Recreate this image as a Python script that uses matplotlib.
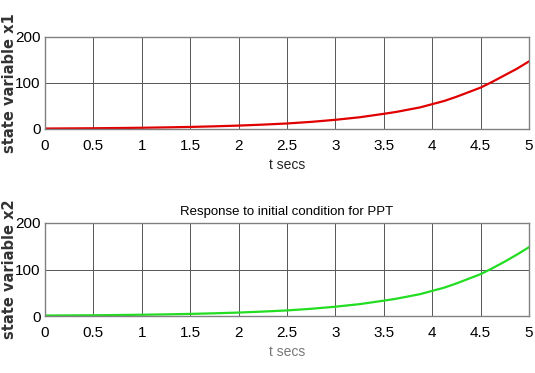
import matplotlib.pyplot as plt
import numpy as np

# time samples and state responses
t = [0, 0.25, 0.5, 0.75, 1, 1.25, 1.5, 1.75, 2, 2.25, 2.5, 2.75, 3,
     3.25, 3.5, 3.625, 3.75, 3.875, 4, 4.125, 4.25, 4.375, 4.5, 4.625,
     4.75, 4.875, 5]
x1 = [1, 1.3, 1.6, 2.1, 2.7, 3.5, 4.5, 5.8, 7.4, 9.5, 12, 15.5, 20,
      25.5, 33, 37, 42, 47, 54, 61, 70, 80, 90, 103, 117, 131, 147]
x2 = [1, 1.3, 1.6, 2.1, 2.7, 3.5, 4.5, 5.8, 7.4, 9.5, 12, 15.5, 20,
      25.5, 33, 37, 42, 47, 54, 61, 70, 80, 90, 103, 117, 132, 148]

xticks = [0, 0.5, 1, 1.5, 2, 2.5, 3, 3.5, 4, 4.5, 5]
xlabels = ['0', '0.5', '1', '1.5', '2', '2.5', '3', '3.5', '4', '4.5', '5']
yticks = [0, 100, 200]

plt.rcParams['font.family'] = ['Liberation Sans', 'DejaVu Sans']

fig = plt.figure(figsize=(5.35, 3.73), dpi=100)
W, H = 535, 373
ax1 = fig.add_axes([45 / W, 1 - 129 / H, 484 / W, 92 / H])
ax2 = fig.add_axes([45 / W, 1 - 316 / H, 484 / W, 93 / H])


def style(ax, y, color, ylabel, xcol):
    ax.plot(t, y, color=color, lw=1.6)
    ax.set_xlim(0, 5)
    ax.set_ylim(0, 200)
    ax.set_xticks(xticks)
    ax.set_xticklabels(xlabels)
    ax.set_yticks(yticks)
    ax.grid(True, color='#555555', lw=0.7)
    ax.tick_params(length=0, labelsize=11, pad=7)
    ax.tick_params(axis='y', pad=3)
    for s in ax.spines.values():
        s.set_color('#808080')
        s.set_linewidth(1.0)
    ax.set_ylabel(ylabel, fontsize=10.5, fontweight='bold', color='#333333',
                  family='DejaVu Sans')
    ax.yaxis.set_label_coords(-28 / 484, 0.5)
    ax.set_xlabel('t secs', fontsize=10, color=xcol, labelpad=4)


style(ax1, x1, '#e00000', 'state variable x1', '#222222')
style(ax2, x2, '#22dd22', 'state variable x2', '#777777')
ax2.set_title('Response to initial condition for PPT', fontsize=9.5, pad=6)

fig.savefig('out.png', dpi=100)
